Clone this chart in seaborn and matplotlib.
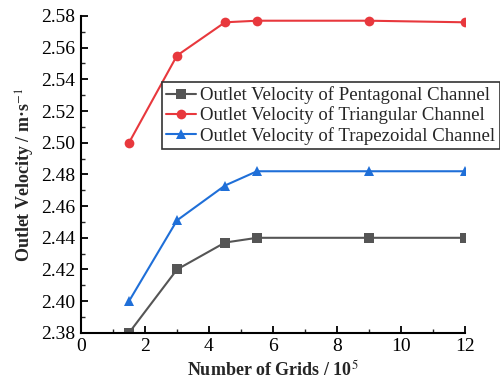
import numpy as np
import pandas as pd
import matplotlib
matplotlib.use("Agg")
import matplotlib.pyplot as plt
import seaborn as sns
from matplotlib.ticker import MultipleLocator

grids = [1.5, 3, 4.5, 5.5, 9, 12]
pentagonal = [2.380, 2.420, 2.437, 2.440, 2.440, 2.440]
triangular = [2.500, 2.555, 2.576, 2.577, 2.577, 2.576]
trapezoidal = [2.400, 2.451, 2.473, 2.482, 2.482, 2.482]

labels = ["Outlet Velocity of Pentagonal Channel",
          "Outlet Velocity of Triangular Channel",
          "Outlet Velocity of Trapezoidal Channel"]
colors = ["#555555", "#e8383d", "#1f6fd8"]
markers = ["s", "o", "^"]

df = pd.concat([
    pd.DataFrame({"grids": grids, "velocity": vals, "series": lab})
    for vals, lab in zip([pentagonal, triangular, trapezoidal], labels)
])

sns.set_theme(style="ticks")
plt.rcParams["font.family"] = ["Liberation Serif", "DejaVu Serif"]
plt.rcParams["mathtext.fontset"] = "stix"

fig = plt.figure(figsize=(5, 3.8), dpi=100)
ax = fig.add_axes([0.162, 0.124, 0.768, 0.834])

sns.lineplot(data=df, x="grids", y="velocity", hue="series", style="series",
             palette=dict(zip(labels, colors)), markers=dict(zip(labels, markers)),
             dashes=False, markersize=7, linewidth=1.5, markeredgewidth=0,
             ax=ax)

ax.set_xlim(0, 12)
ax.set_ylim(2.38, 2.58)
ax.xaxis.set_major_locator(MultipleLocator(2))
ax.xaxis.set_minor_locator(MultipleLocator(1))
ax.yaxis.set_major_locator(MultipleLocator(0.02))
ax.yaxis.set_minor_locator(MultipleLocator(0.01))
ax.yaxis.set_major_formatter(matplotlib.ticker.FormatStrFormatter("%.2f"))
ax.tick_params(which="major", direction="in", length=5, width=1.3,
               labelsize=14, colors="black", pad=4)
ax.tick_params(which="minor", direction="in", length=3, width=1.0)
ax.spines[["top", "right"]].set_visible(False)
for s in ["left", "bottom"]:
    ax.spines[s].set_linewidth(1.5)
    ax.spines[s].set_color("black")

ax.set_xlabel("Number of Grids / 10$^{5}$", fontsize=13, fontweight="bold", labelpad=3)
ax.set_ylabel("Outlet Velocity / m·s$^{-1}$", fontsize=13, fontweight="bold", labelpad=3)

leg = ax.legend(loc="upper right", bbox_to_anchor=(1.0, 0.785), bbox_transform=fig.transFigure,
                fontsize=13.5, frameon=True, fancybox=False, framealpha=1,
                edgecolor="#333333", handlelength=1.6, handletextpad=0.2,
                borderpad=0.25, labelspacing=0.12, borderaxespad=0)
leg.get_frame().set_linewidth(1.2)

fig.savefig("out.png", dpi=100)
